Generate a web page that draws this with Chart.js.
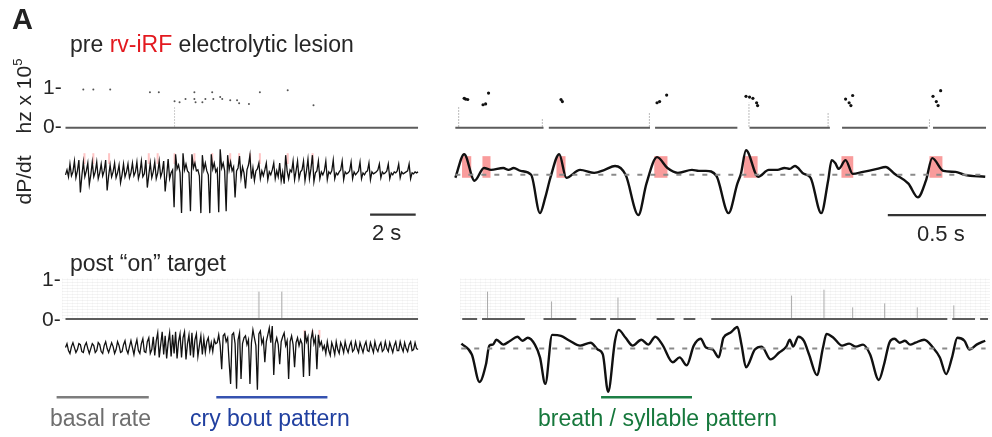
<!DOCTYPE html>
<html>
<head>
<meta charset="utf-8">
<script src="https://cdn.jsdelivr.net/npm/chart.js@4.4.0/dist/chart.umd.min.js"></script>
<style>
  html, body { margin: 0; padding: 0; background: #fff; }
  #wrap { position: relative; width: 992px; height: 437px; overflow: hidden;
          font-family: "Liberation Sans", Arial, sans-serif; color: #262626; }
  #plot { position: absolute; left: 0; top: 0; }
  .t { position: absolute; white-space: nowrap; line-height: 1; font-size: 23px; }
  .rot { position: absolute; white-space: nowrap; line-height: 1; font-size: 21px;
         transform: translate(-50%, -50%) rotate(-90deg); }
  .speckle { position: absolute;
    background-image: repeating-linear-gradient(0deg, rgba(0,0,0,0.045) 0 1px, transparent 1px 3px),
                      repeating-linear-gradient(90deg, rgba(0,0,0,0.025) 0 1px, transparent 1px 5px); }
</style>
</head>
<body>
<div id="wrap">
  <div class="speckle" style="left:62px;top:278px;width:356px;height:41px"></div>
  <div class="speckle" style="left:460px;top:278px;width:530px;height:41px"></div>
  <canvas id="plot" width="992" height="437"></canvas>

  <div class="t" style="left:12px;top:5px;font-size:29px;font-weight:bold;color:#222">A</div>
  <div class="t" style="left:70px;top:33px">pre <span style="color:#e3191f">rv-iRF</span> electrolytic lesion</div>
  <div class="t" style="left:70px;top:252px">post “on” target</div>

  <div class="rot" style="left:23px;top:96px">hz x 10<sup style="font-size:13px;vertical-align:9px;line-height:0">5</sup></div>
  <div class="rot" style="left:23px;top:180px">dP/dt</div>

  <div class="t" style="left:43px;top:76px;font-size:21px">1-</div>
  <div class="t" style="left:43px;top:115px;font-size:21px">0-</div>
  <div class="t" style="left:42px;top:268px;font-size:21px">1-</div>
  <div class="t" style="left:42px;top:308px;font-size:21px">0-</div>

  <div class="t" style="left:372px;top:222px;font-size:22px">2 s</div>
  <div class="t" style="left:917px;top:223px;font-size:22px">0.5 s</div>

  <div class="t" style="left:50px;top:407px;color:#6e6e6e">basal rate</div>
  <div class="t" style="left:190px;top:407px;color:#2140a0">cry bout pattern</div>
  <div class="t" style="left:538px;top:407px;color:#16783c">breath / syllable pattern</div>
</div>

<script>
// left traces: dP/dt sampled every 0.0652 s (a.u.)
const LEFT_DT = 0.0652;

const preLeftVals = [
  -0.2, 0.3, -0.4, 0.9, -0.3, 0.1, 1.2, -0.5, 0.2, 1.3, -2.0, -0.3,
  1.1, -0.4, 0.2, 1.0, -1.2, -0.2, 1.1, -0.4, 0.1, 1.1, -0.6, 0.0,
  0.9, -0.3, 0.2, 1.3, -1.8, -0.3, 0.8, -0.4, 0.1, 1.0, -0.5, 0.0,
  0.8, -1.0, -0.2, 0.9, -0.4, 0.1, 0.9, -0.5, 0.0, 1.0, -0.3, 0.1,
  1.1, -0.6, 0.0, 1.2, -0.4, -0.1, 1.3, -1.5, -0.2, 1.0, -0.5, 0.1,
  1.1, -0.6, 0.0, 1.2, -0.4, 0.1, 1.2, -1.9, -0.3, 1.4, -0.6, 0.0,
  0.3, -3.5, 1.9, 0.4, 0.8, 0.0, -4.1, 2.0, 0.3, 0.9, 0.2, 0.0,
  -3.9, 1.9, 0.5, 1.0, 0.2, 0.3, -0.3, -4.1, 1.8, 0.3, 1.0, 0.2, -0.2,
  -4.1, 1.9, 0.4, 1.0, 0.1, 0.4, -4.0, 2.4, 0.5, 1.0, 0.2,
  -3.9, 1.8, 0.3, 1.1, 0.2, 0.6,
  -2.5, 0.2, 0.5, 1.7, -0.5, 0.6, 0.0, -1.6, 0.3, 0.8,
  1.8, -0.6, 0.5, -0.8, 0.2, 0.4, 1.0, -0.6, 0.2, -0.3,
  0.3, 1.0, -0.7, 0.1, -0.2, 0.3, 1.0, -0.6, 0.2, -0.4,
  1.0, -0.8, 0.1, -1.1, 1.8, 0.2, -0.6, 0.3, 0.1, 1.2,
  -0.7, 0.2, 1.2, -0.6, 0.1, 0.3, 1.2, -0.8, 0.2, 1.4,
  -0.6, 0.4, 1.8, -0.9, 0.0, 0.2, 1.2, -0.6, 0.1, -0.2,
  0.2, 1.2, -0.7, 0.1, -0.1, 0.2, 1.3, -0.6, 0.0, -0.2,
  0.1, 0.3, 1.2, -0.7, 0.1, -0.1, 0.0, 0.2, 1.1, -0.6,
  0.1, -0.2, 0.0, 0.2, 1.1, -0.6, 0.0, -0.2, 0.1, 0.2,
  1.0, -0.7, 0.1, -0.1, 0.0, 0.1, 0.3, 0.9, -0.5, 0.1,
  -0.1, 0.0, 0.2, 0.9, -0.6, 0.0, -0.2, 0.1, 0.0, 0.2,
  0.9, -0.5, 0.1, -0.1, 0.0, 0.1, 0.2, 0.9, -0.6, 0.0,
  -0.1, 0.1, 0.0, 0.1
];

const postLeftVals = [
  0.0, 0.4, -0.3, -0.6, 0.1, 0.5, 0.0, -0.5, -0.2, 0.4,
  0.3, -0.4, -0.5, 0.2, 0.5, -0.1, -0.6, -0.1, 0.4, 0.2,
  -0.5, -0.3, 0.5, 0.3, -0.4, -0.6, 0.2, 0.6, -0.1, -0.5,
  0.0, 0.5, 0.1, -0.6, -0.2, 0.6, 0.2, -0.5, -0.4, 0.3,
  0.7, -0.2, -0.6, 0.1, 0.7, 0.0, -0.7, 0.2, 0.8, -0.3,
  -0.6, 0.4, 0.9, -0.4, -0.5, 0.6, 1.0, -0.6, -0.2,
  1.1, -0.8, 0.7, 1.5, -1.0, 0.3, 1.6, -0.7, 1.2, -1.1,
  0.5, 1.5, -0.9, 1.3, -0.6, 1.6, -1.1, 0.6, 1.4, -1.0,
  1.0, 1.6, -1.2, 0.4, 1.3, -0.8, 1.5, -1.0, 0.8, 1.4,
  -0.9, 0.2, 1.2, -0.7, 0.9, -0.5, 0.6, 1.0, -0.3, 0.5,
  -0.4, 0.8, 0.4,
  0.5, 1.3, 0.2, -2.2, 1.2, 1.4, 0.6, 1.0, -1.5, -3.7,
  1.3, 1.5, 0.4, -4.2, 0.8, 1.5, -3.2, 0.4, 1.0, 1.2,
  0.3, 0.8, -3.7, 0.5, 1.8, 1.0, 0.2, -4.3, 1.4, 1.7,
  0.4, 0.9, -1.5, 0.6, 1.3, 2.0, 0.5, 2.2, -2.8, 0.4,
  1.0, 0.3, -1.7, 0.6, 1.1, 1.5, 0.2, 0.7, -3.2, 0.6,
  1.2, 0.3, -2.0, 0.5, 1.0, 0.2, 0.8, 0.4, -3.0, 1.7,
  0.6, 1.1, -2.9, 0.8, 1.6, 0.4, 1.0, -2.2, 1.3, 0.2,
  0.6,
  -0.2, 0.2, -0.6, 0.6, -0.3, -0.8, 0.5, 0.0, -0.7, 0.6,
  -0.2, -0.6, 0.5, 0.1, -0.5, 0.6, -0.1, -0.5, 0.2, 0.6,
  -0.4, -0.2, 0.6, -0.1, -0.5, 0.5, 0.0, -0.5, 0.2, 0.6,
  -0.3, -0.4, 0.5, 0.0, -0.5, 0.6, -0.1, -0.4, 0.2, 0.5,
  -0.4, -0.2, 0.6, -0.1, -0.4, 0.5, 0.0, -0.5, 0.2, 0.6,
  -0.3, -0.3, 0.6, 0.0, -0.4, 0.5, -0.1, -0.4, 0.3, 0.6,
  -0.3, -0.2, 0.5, -0.1, -0.2
];

// right traces: time (s) and dP/dt (a.u.)
const preRightT = [
  0.000, 0.045, 0.098, 0.146, 0.182, 0.244, 0.271, 0.297, 0.333, 0.386,
  0.431, 0.458, 0.484, 0.529, 0.565, 0.635, 0.707, 0.760, 0.813, 0.867,
  0.932, 0.973, 1.027, 1.080, 1.133, 1.205, 1.240, 1.276, 1.329, 1.391,
  1.436, 1.454, 1.480, 1.542, 1.596, 1.640, 1.676, 1.703, 1.729, 1.774,
  1.809, 1.863, 1.898, 1.916, 1.934, 1.952, 1.987, 2.023, 2.076, 2.147,
  2.191, 2.236, 2.307, 2.355, 2.396, 2.428, 2.485, 2.547, 2.592, 2.698
];
const preRightV = [
  -0.3, 2.1, -0.6, 0.7, 0.5, 0.7, 0.5, 0.7, 0.4, 0.0,
  -3.9, -2.3, -0.3, 2.1, -0.3, 0.5, 0.2, 0.5, 0.9, 0.0,
  -4.1, -0.9, 1.8, 0.7, 0.2, 0.5, 0.4, 0.4, -0.1, -3.9,
  -0.9, 0.1, 2.5, -0.2, 0.5, 0.5, 0.7, 0.6, 0.9, 0.1,
  -0.3, -3.9, -0.6, 1.5, 1.2, 0.6, 1.5, 0.1, 0.3, 0.6,
  0.8, 0.1, -0.9, -2.3, -0.6, 1.7, 0.4, 0.3, 0.0, -0.2
];
const postRightT = [
  0.031, 0.084, 0.123, 0.156, 0.173, 0.191, 0.209, 0.244, 0.280, 0.316,
  0.342, 0.369, 0.405, 0.431, 0.458, 0.493, 0.538, 0.582, 0.635, 0.689,
  0.725, 0.751, 0.778, 0.813, 0.831, 0.867, 0.903, 0.947, 0.982, 1.018,
  1.054, 1.107, 1.142, 1.178, 1.214, 1.249, 1.276, 1.311, 1.341, 1.365,
  1.400, 1.436, 1.457, 1.480, 1.525, 1.560, 1.605, 1.649, 1.685, 1.703,
  1.720, 1.747, 1.774, 1.801, 1.841, 1.872, 1.890, 1.925, 1.969, 2.005,
  2.040, 2.076, 2.112, 2.156, 2.183, 2.210, 2.236, 2.263, 2.289, 2.316,
  2.343, 2.387, 2.432, 2.467, 2.499, 2.529, 2.556, 2.592, 2.618, 2.654,
  2.698
];
const postRightV = [
  0.5, -0.6, -3.4, -1.6, 0.3, 0.4, 0.9, 0.4, 0.8, 1.2,
  0.8, 1.1, 0.4, -0.9, -3.6, 1.4, 1.3, 0.8, 0.3, 0.6,
  -0.1, -0.6, -4.4, 0.8, 1.9, 1.1, 0.3, 0.9, 0.4, 1.2,
  0.4, -1.4, -0.9, -1.7, 0.3, 1.0, 0.1, -0.1, -0.9, 1.1,
  1.6, 2.2, 0.4, -1.9, -0.1, 0.2, -1.1, -0.4, 0.2, 0.9,
  0.2, 1.2, 0.8, -0.6, -2.7, 0.1, 1.5, 1.1, 0.3, 0.5,
  0.2, 0.4, -0.6, -3.2, -1.6, 0.6, 1.0, 0.6, 0.8, 0.4,
  0.6, 0.9, 0.1, -0.9, -2.6, -0.9, 1.1, 0.8, -0.1, 0.4,
  0.8
];

// syllable windows (red boxes), s
const syllStart = [0.034, 0.138, 0.515, 1.013, 1.468, 1.966, 2.414];
const syllEnd   = [0.081, 0.179, 0.561, 1.080, 1.539, 2.026, 2.480];
const syllTop = 1.9, syllBottom = -0.3;

// faint pink call marks on left traces, s
const preLeftMarks = [0.83, 1.22, 1.91, 3.65, 4.04, 4.78, 5.65, 6.43, 7.22, 7.61, 8.09, 8.52, 9.74, 10.83];
const postLeftMarks = [10.48, 10.83, 11.13];

// spectrogram energy (s, hz x 10^5)
const preLeftSpecT = [0.78, 1.22, 1.96, 3.70, 4.09, 4.78, 5.00, 5.26, 5.65, 5.65, 5.70, 6.00,
                      6.13, 6.43, 6.48, 6.78, 6.87, 7.22, 7.52, 7.61, 8.04, 8.52, 9.74, 10.87];
const preLeftSpecF = [0.95, 0.95, 0.95, 0.88, 0.88, 0.66, 0.63, 0.71, 0.88, 0.71, 0.63, 0.63,
                      0.71, 0.88, 0.71, 0.76, 0.71, 0.68, 0.68, 0.61, 0.59, 0.88, 0.93, 0.56];
const preRightSpecT = [0.052, 0.045, 0.063, 0.141, 0.154, 0.169, 0.538, 0.545, 1.027, 1.040,
                       1.076, 1.480, 1.498, 1.515, 1.534, 1.539, 1.987, 2.005, 2.014, 2.023,
                       2.432, 2.449, 2.458, 2.471];
const preRightSpecF = [0.71, 0.73, 0.70, 0.57, 0.59, 0.86, 0.70, 0.65, 0.62, 0.65,
                       0.81, 0.78, 0.76, 0.73, 0.62, 0.55, 0.71, 0.62, 0.55, 0.80,
                       0.78, 0.65, 0.55, 0.92];
const preRightTickT = [0.017, 0.443, 0.988, 1.495, 1.898, 2.414];
const preRightTickTop = [0.54, 0.22, 0.39, 0.63, 0.39, 0.20];
const preLeftTickT = [4.78];
const preLeftTickTop = [0.50];
const postLeftTickT = [8.48, 9.48];
const postLeftTickTop = [0.70, 0.70];
const postRightTickT = [0.164, 0.490, 0.828, 1.712, 1.877, 2.023, 2.186, 2.352, 2.538];
const postRightTickTop = [0.70, 0.45, 0.55, 0.60, 0.75, 0.30, 0.40, 0.30, 0.35];

// spectrogram zero-line pieces (s)
const preRightBaseStart = [0.000, 0.476, 1.017, 1.498, 1.969, 2.432];
const preRightBaseEnd   = [0.449, 0.991, 1.436, 1.907, 2.405, 2.702];
const postRightBaseStart = [0.035, 0.136, 0.449, 0.687, 0.788, 1.025, 1.162, 1.303, 2.530, 2.672];
const postRightBaseEnd   = [0.111, 0.354, 0.616, 0.768, 0.919, 1.116, 1.222, 2.505, 2.646, 2.712];

const leftEnd = (preLeftVals.length - 1) * LEFT_DT;

const samplePts = vals => vals.map((v, i) => ({ x: i * LEFT_DT, y: v }));
const pairPts = (ts, vs) => ts.map((t, i) => ({ x: t, y: vs[i] }));
const segPts = (starts, ends, y) => starts.flatMap((s, i) => [{ x: s, y: y }, { x: ends[i], y: y }, { x: ends[i], y: null }]);
const tickPts = (ts, tops) => ts.flatMap((t, i) => [{ x: t, y: 0.03 }, { x: t, y: tops[i] }, { x: t, y: null }]);

function line(data, xId, yId, color, width, extra) {
    return Object.assign({
        data: data, xAxisID: xId, yAxisID: yId, showLine: true,
        borderColor: color, borderWidth: width, pointRadius: 0,
        tension: 0, fill: false, spanGaps: false
    }, extra || {});
}
function dots(data, xId, yId, color, r) {
    return { data: data, xAxisID: xId, yAxisID: yId, showLine: false,
             pointRadius: r, pointBorderWidth: 0, pointBackgroundColor: color };
}

// red syllable boxes and pink marks, drawn under the traces
const boxPlugin = {
    id: 'boxes',
    beforeDatasetsDraw(chart) {
        const ctx = chart.ctx;
        const xr = chart.scales.xR, yr = chart.scales.yPreR;
        ctx.save();
        ctx.fillStyle = 'rgba(245, 95, 95, 0.62)';
        syllStart.forEach((s, i) => {
            const x0 = xr.getPixelForValue(s), x1 = xr.getPixelForValue(syllEnd[i]);
            const y0 = yr.getPixelForValue(syllTop), y1 = yr.getPixelForValue(syllBottom);
            ctx.fillRect(x0, y0, x1 - x0, y1 - y0);
        });
        ctx.strokeStyle = 'rgba(255, 140, 140, 0.5)';
        ctx.lineWidth = 2;
        const xl = chart.scales.xL;
        preLeftMarks.forEach(t => {
            const x = xl.getPixelForValue(t);
            ctx.beginPath();
            ctx.moveTo(x, chart.scales.yPreL.getPixelForValue(2.0));
            ctx.lineTo(x, chart.scales.yPreL.getPixelForValue(0.9));
            ctx.stroke();
        });
        postLeftMarks.forEach(t => {
            const x = xl.getPixelForValue(t);
            ctx.beginPath();
            ctx.moveTo(x, chart.scales.yPostL.getPixelForValue(1.8));
            ctx.lineTo(x, chart.scales.yPostL.getPixelForValue(1.0));
            ctx.stroke();
        });
        ctx.restore();
    }
};

const hidden = (axis, min, max) => ({ type: 'linear', axis: axis, display: false, min: min, max: max });

new Chart(document.getElementById('plot'), {
    type: 'scatter',
    data: {
        datasets: [
            // spectrogram rows
            line([{ x: 0, y: 0 }, { x: leftEnd, y: 0 }], 'xL', 'ySpecPre', '#5c5c5c', 2),
            line(segPts(preRightBaseStart, preRightBaseEnd, 0), 'xR', 'ySpecPre', '#5c5c5c', 2),
            line([{ x: 0, y: 0 }, { x: leftEnd, y: 0 }], 'xL', 'ySpecPost', '#5c5c5c', 2),
            line(segPts(postRightBaseStart, postRightBaseEnd, 0), 'xR', 'ySpecPost', '#5c5c5c', 2),
            line(tickPts(preRightTickT, preRightTickTop), 'xR', 'ySpecPre', '#777', 1, { borderDash: [1, 2] }),
            line(tickPts(preLeftTickT, preLeftTickTop), 'xL', 'ySpecPre', '#999', 1, { borderDash: [1, 2] }),
            line(tickPts(postLeftTickT, postLeftTickTop), 'xL', 'ySpecPost', '#aaa', 1),
            line(tickPts(postRightTickT, postRightTickTop), 'xR', 'ySpecPost', '#aaa', 1),
            dots(pairPts(preLeftSpecT, preLeftSpecF), 'xL', 'ySpecPre', '#555', 1),
            dots(pairPts(preRightSpecT, preRightSpecF), 'xR', 'ySpecPre', '#111', 1.6),

            // dashed zero lines on right traces
            line([{ x: 0, y: 0 }, { x: 2.70, y: 0 }], 'xR', 'yPreR', '#8a8a8a', 2, { borderDash: [5, 8] }),
            line([{ x: 0.03, y: 0 }, { x: 2.70, y: 0 }], 'xR', 'yPostR', '#8a8a8a', 2, { borderDash: [5, 8] }),

            // dP/dt traces
            line(samplePts(preLeftVals), 'xL', 'yPreL', '#111', 1.3),
            line(samplePts(postLeftVals), 'xL', 'yPostL', '#111', 1.3),
            line(pairPts(preRightT, preRightV), 'xR', 'yPreR', '#111', 2.4, { cubicInterpolationMode: 'monotone' }),
            line(pairPts(postRightT, postRightV), 'xR', 'yPostR', '#111', 2.4, { cubicInterpolationMode: 'monotone' }),

            // scale bars: 2 s and 0.5 s
            line([{ x: 13.35, y: -4.25 }, { x: 15.35, y: -4.25 }], 'xL', 'yPreL', '#333', 2.2),
            line([{ x: 2.202, y: -4.1 }, { x: 2.702, y: -4.1 }], 'xR', 'yPreR', '#333', 2.2),

            // pattern underlines
            line([{ x: -0.39, y: -5.07 }, { x: 3.65, y: -5.07 }], 'xL', 'yPostL', '#7d7d7d', 2.5),
            line([{ x: 6.61, y: -5.07 }, { x: 11.48, y: -5.07 }], 'xL', 'yPostL', '#3552b0', 2.5),
            line([{ x: 0.742, y: -4.97 }, { x: 1.205, y: -4.97 }], 'xR', 'yPostR', '#1d7f45', 2.5)
        ]
    },
    options: {
        responsive: false,
        animation: false,
        events: [],
        layout: { padding: 0 },
        plugins: { legend: { display: false }, tooltip: { enabled: false } },
        scales: {
            x: { display: false }, y: { display: false },
            xL: hidden('x', -2.6957, 40.4348),
            xR: hidden('x', -2.2980, 2.7121),
            yPreL: hidden('y', -26.5, 17.2),
            yPostL: hidden('y', -8.7, 35.0),
            yPreR: hidden('y', -26.3, 17.4),
            yPostR: hidden('y', -8.6, 35.1),
            ySpecPre: hidden('y', -7.585, 3.073),
            ySpecPost: hidden('y', -2.9, 8.025)
        }
    },
    plugins: [boxPlugin]
});
</script>
</body>
</html>
